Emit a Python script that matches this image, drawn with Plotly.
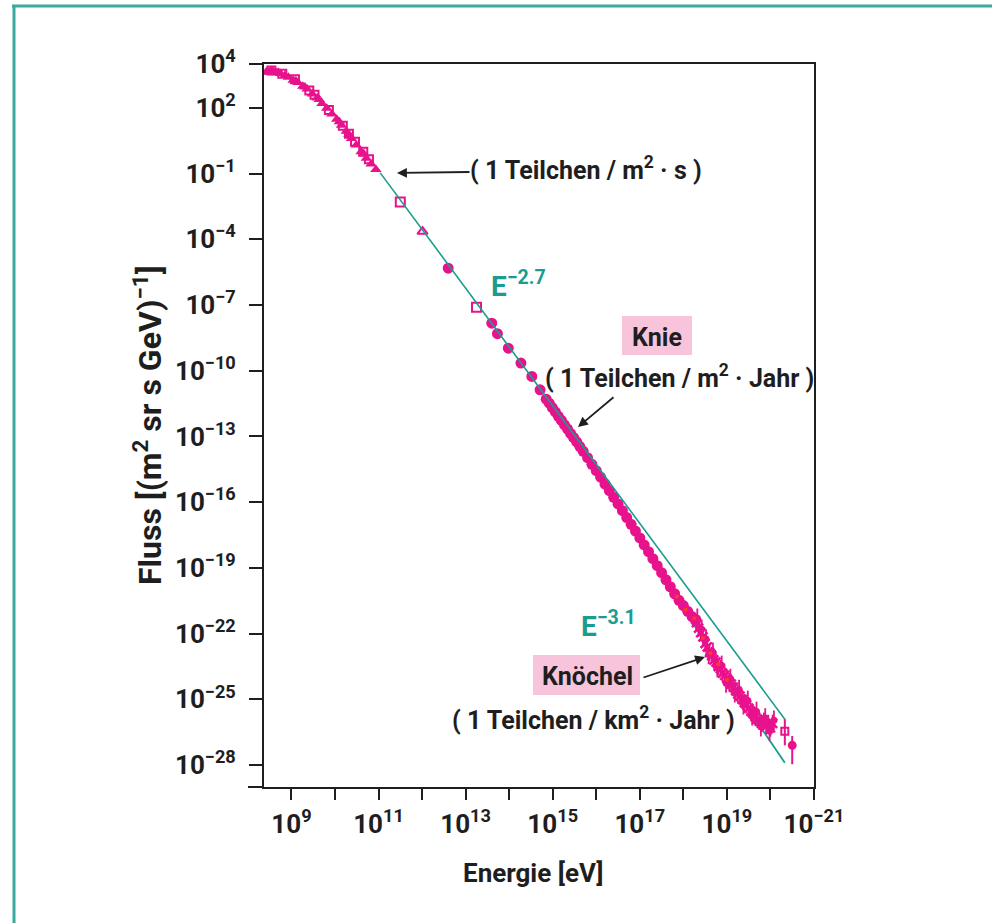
import numpy as np
import plotly.graph_objects as go

# ---------------------------------------------------------------------------
# Cosmic-ray energy spectrum (all-particle flux), values as log10 exponents
# ---------------------------------------------------------------------------

# low-energy direct measurements (filled triangles)
lo_tri_log_e = [8.42, 8.47, 8.51, 8.55, 8.59, 8.66, 8.70, 8.75, 8.85, 8.93, 9.04, 9.10,
                9.15, 9.26, 9.31, 9.36, 9.48, 9.59, 9.64, 9.70, 9.81, 9.93, 10.04,
                10.10, 10.15, 10.26, 10.32, 10.38, 10.49, 10.60, 10.66, 10.72, 10.83,
                10.94]
lo_tri_log_f = [3.64, 3.62, 3.66, 3.70, 3.63, 3.60, 3.62, 3.57, 3.48, 3.40, 3.26, 3.22,
                3.15, 2.98, 2.95, 2.86, 2.63, 2.45, 2.38, 2.20, 1.98, 1.72, 1.48,
                1.36, 1.20, 0.93, 0.78, 0.60, 0.30, 0.00, -0.10, -0.30, -0.57,
                -0.82]

# low-energy direct measurements (open squares)
lo_sq_log_e = [8.54, 8.79, 9.08, 9.41, 9.53, 9.86, 10.18, 10.32, 10.46, 10.65, 10.78]
lo_sq_log_f = [3.70, 3.56, 3.30, 2.79, 2.60, 1.90, 1.18, 0.82, 0.45, 0.00, -0.35]

# isolated points between 1e11 and 1e15 eV
mid_log_e = [11.50, 12.01, 12.60, 13.25, 13.60, 13.73, 13.98, 14.27, 14.52, 14.71]
mid_log_f = [-2.30, -3.65, -5.32, -7.10, -7.83, -8.31, -8.97, -9.65, -10.26, -10.87]
mid_symbols = ["square-open", "triangle-up-open", "circle", "square-open", "circle",
               "circle", "circle", "circle", "circle", "circle"]

# air-shower measurements around and above the knee
knee_log_e = [14.85, 14.92, 14.99, 15.06, 15.13, 15.20, 15.27, 15.34, 15.41, 15.48,
              15.55, 15.62, 15.70, 15.80, 15.90, 16.00, 16.10, 16.20, 16.30, 16.40,
              16.50, 16.60, 16.70, 16.80, 16.90, 17.00, 17.10, 17.20, 17.30, 17.40,
              17.50, 17.60, 17.70, 17.80, 17.90, 18.00, 18.10, 18.20, 18.28]
knee_log_f = [-11.30, -11.48, -11.68, -11.88, -12.08, -12.27, -12.47, -12.66, -12.86, -13.05,
              -13.25, -13.45, -13.68, -13.97, -14.27, -14.56, -14.86, -15.17, -15.47, -15.78,
              -16.08, -16.39, -16.70, -17.01, -17.32, -17.63, -17.95, -18.26, -18.58, -18.90,
              -19.22, -19.54, -19.86, -20.18, -20.48, -20.72, -20.98, -21.22, -21.40]

# highest energies with error bars (first set, crosses)
hi_log_e = [18.30, 18.35, 18.40, 18.45, 18.50, 18.55, 18.60, 18.65, 18.70, 18.75,
            18.80, 18.85, 18.90, 18.95, 19.00, 19.05, 19.10, 19.15, 19.20, 19.25,
            19.30, 19.35, 19.40, 19.45, 19.50, 19.55, 19.60, 19.65, 19.70, 19.75,
            19.80, 19.85, 19.90, 19.95, 20.00, 20.05]
hi_log_f = [-21.50, -21.75, -21.95, -22.15, -22.45, -22.60, -22.85, -23.00, -23.20, -23.30,
            -23.50, -23.60, -23.80, -23.90, -24.05, -24.20, -24.30, -24.45, -24.60, -24.75,
            -24.85, -25.00, -25.15, -25.25, -25.40, -25.55, -25.65, -25.80, -25.90, -26.00,
            -26.10, -26.00, -26.20, -26.10, -26.30, -26.10]

# highest energies with error bars (second set, filled circles)
hi2_log_e = [18.32, 18.42, 18.52, 18.58, 18.68, 18.78, 18.88, 18.98, 19.08, 19.18,
             19.28, 19.38, 19.48, 19.58, 19.68, 19.78, 19.88, 19.98, 20.08]
hi2_log_f = [-21.30, -21.80, -22.25, -22.95, -22.85, -23.55, -23.45, -24.25, -24.05, -24.70,
             -24.55, -25.25, -25.05, -25.75, -25.55, -26.25, -25.85, -26.45, -25.95]

# second data set (small red dots)
red_log_e = [17.85, 18.05, 18.25, 18.45, 18.62, 18.80, 19.00]
red_log_f = [-20.30, -20.90, -21.30, -22.20, -22.90, -23.40, -24.10]

# two highest-energy points with their error ranges (decades)
top_log_e = [20.33, 20.50]
top_log_f = [-26.45, -27.10]
top_err_up = [0.55, 0.43]
top_err_dn = [0.65, 0.86]
top_symbols = ["square-open", "circle"]

# reference power laws E^-2.7 and E^-3.1
pl27_log_e = [11.04, 20.33]
pl27_log_f = [-0.97, -25.91]
pl31_log_e = [15.60, 19.00, 20.33]
pl31_log_f = [-13.21, -24.00, -27.89]

# axis ticks
x_tick_exp = list(range(9, 22))
x_tick_text = ["10<sup>9</sup>", "", "10<sup>11</sup>", "", "10<sup>13</sup>", "",
               "10<sup>15</sup>", "", "10<sup>17</sup>", "", "10<sup>19</sup>", "",
               "10<sup>\u221221</sup>"]
y_tick_exp = [4, 2, -1, -4, -7, -10, -13, -16, -19, -22, -25, -28]
y_tick_text = ["10<sup>4</sup>", "10<sup>2</sup>"] + [
    "10<sup>\u2212%d</sup>" % abs(v) for v in y_tick_exp[2:]]

# ---------------------------------------------------------------------------
MAGENTA = "#e8128c"
TEAL = "#1b9c90"
FRAME = "#3aa89f"
PINK = "#f7c4dc"
INK = "#1e1e1e"
FONT = "Roboto, Liberation Sans, sans-serif"

W, H = 992, 923
L, R, T, B = 264, 178, 64, 136
PW, PH = W - L - R, H - T - B


def pxx(x):
    return (x - L) / PW


def pxy(y):
    return (H - B - y) / PH


def p10(v):
    return 10 ** np.asarray(v, dtype=float)


fig = go.Figure()

# steeper power law sits underneath the data
fig.add_trace(go.Scatter(x=p10(pl31_log_e), y=p10(pl31_log_f), mode="lines",
                         line=dict(color=TEAL, width=1.8), hoverinfo="skip"))

fig.add_trace(go.Scatter(x=p10(lo_tri_log_e), y=p10(lo_tri_log_f), mode="markers",
                         marker=dict(symbol="triangle-up", size=10, color=MAGENTA)))
fig.add_trace(go.Scatter(x=p10(lo_sq_log_e), y=p10(lo_sq_log_f), mode="markers",
                         marker=dict(symbol="square-open", size=8, color=MAGENTA,
                                     line=dict(width=2, color=MAGENTA))))
fig.add_trace(go.Scatter(x=p10(mid_log_e), y=p10(mid_log_f), mode="markers",
                         marker=dict(symbol=mid_symbols, size=9, color=MAGENTA,
                                     line=dict(width=2, color=MAGENTA))))
fig.add_trace(go.Scatter(x=p10(knee_log_e), y=p10(knee_log_f), mode="markers",
                         marker=dict(symbol="circle", size=11, color=MAGENTA)))
fig.add_trace(go.Scatter(x=p10(hi_log_e), y=p10(hi_log_f), mode="markers",
                         marker=dict(symbol="x-thin", size=9, color=MAGENTA,
                                     line=dict(width=2.5, color=MAGENTA)),
                         error_y=dict(type="percent", symmetric=False, value=150,
                                      valueminus=60, color=MAGENTA, thickness=1.8,
                                      width=0),
                         error_x=dict(type="percent", symmetric=False, value=12,
                                      valueminus=11, color=MAGENTA, thickness=1.8,
                                      width=0)))
fig.add_trace(go.Scatter(x=p10(hi2_log_e), y=p10(hi2_log_f), mode="markers",
                         marker=dict(symbol="circle", size=7, color=MAGENTA),
                         error_y=dict(type="percent", symmetric=False, value=180,
                                      valueminus=64, color=MAGENTA, thickness=1.8,
                                      width=0)))
fig.add_trace(go.Scatter(x=p10(red_log_e), y=p10(red_log_f), mode="markers",
                         marker=dict(symbol="circle", size=4, color="#ff3a2a")))

top_f = p10(top_log_f)
fig.add_trace(go.Scatter(x=p10(top_log_e), y=top_f, mode="markers",
                         marker=dict(symbol=top_symbols, size=7, color=MAGENTA,
                                     line=dict(width=2, color=MAGENTA)),
                         error_y=dict(type="data", symmetric=False,
                                      array=top_f * (p10(top_err_up) - 1),
                                      arrayminus=top_f * (1 - p10([-d for d in top_err_dn])),
                                      color=MAGENTA, thickness=2, width=0)))

# E^-2.7 guide line drawn across the markers
fig.add_trace(go.Scatter(x=p10(pl27_log_e), y=p10(pl27_log_f), mode="lines",
                         line=dict(color=TEAL, width=1.6), hoverinfo="skip"))

axis_common = dict(type="log", showline=True, linecolor=INK, linewidth=2, mirror=True,
                   ticks="outside", tickcolor=INK, tickwidth=2, showgrid=False,
                   zeroline=False,
                   tickfont=dict(family=FONT, size=26, color=INK, weight=700))

fig.update_layout(
    width=W, height=H, margin=dict(l=L, r=R, t=T, b=B),
    paper_bgcolor="white", plot_bgcolor="white", showlegend=False,
    xaxis=dict(axis_common, range=[8.37, 21.0], tickvals=p10(x_tick_exp),
               ticktext=x_tick_text, ticklen=11, ticklabelstandoff=2),
    yaxis=dict(axis_common, range=[-29.0, 4.0], tickvals=p10(y_tick_exp),
               ticktext=y_tick_text, ticklen=13, ticklabelstandoff=8),
)

shapes = [
    # page frame
    dict(type="line", xref="paper", yref="paper", x0=pxx(12), x1=pxx(W + 5),
         y0=pxy(6), y1=pxy(6), line=dict(color=FRAME, width=3)),
    dict(type="line", xref="paper", yref="paper", x0=pxx(14), x1=pxx(14),
         y0=pxy(5), y1=pxy(H + 5), line=dict(color=FRAME, width=3)),
    # bottom axis line running past the y axis
    dict(type="line", xref="paper", yref="paper", x0=pxx(248), x1=0,
         y0=0, y1=0, line=dict(color=INK, width=2)),
    # highlight boxes
    dict(type="rect", xref="paper", yref="paper", x0=pxx(622), x1=pxx(692),
         y0=pxy(355), y1=pxy(316), fillcolor=PINK, line=dict(width=0), layer="below"),
    dict(type="rect", xref="paper", yref="paper", x0=pxx(533), x1=pxx(640),
         y0=pxy(695), y1=pxy(655), fillcolor=PINK, line=dict(width=0), layer="below"),
]
fig.update_layout(shapes=shapes)


def label(x, y, text, size=25, color=INK, **kw):
    fig.add_annotation(xref="paper", yref="paper", x=pxx(x), y=pxy(y), text=text,
                       showarrow=False, xanchor="center", yanchor="middle",
                       font=dict(family=FONT, size=size, color=color, weight=700), **kw)


def arrow(tip_x, tip_y, tail_x, tail_y):
    fig.add_annotation(xref="paper", yref="paper", x=pxx(tip_x), y=pxy(tip_y),
                       ax=tail_x - tip_x, ay=tail_y - tip_y, text="", showarrow=True,
                       arrowhead=2, arrowsize=1.1, arrowwidth=1.8, arrowcolor=INK,
                       standoff=0)


label(586, 168, "( 1 Teilchen / m<sup>2</sup> \u00b7 s )")
label(518, 284, "E<sup>\u22122.7</sup>", size=28, color=TEAL)
label(657, 337, "Knie")
label(679, 376, "( 1 Teilchen / m<sup>2</sup> \u00b7 Jahr )")
label(608, 624, "E<sup>\u22123.1</sup>", size=28, color=TEAL)
label(587, 676, "Kn\u00f6chel")
label(593, 718, "( 1 Teilchen / km<sup>2</sup> \u00b7 Jahr )")

arrow(397, 173, 471, 172)
arrow(578, 427, 615, 396)
arrow(705, 657, 642, 678)

# axis titles
label(533, 873, "Energie [eV]", size=26)
label(148, 425, "Fluss [(m<sup>2</sup> sr s GeV)<sup>\u22121</sup>]", size=32, textangle=-90)

fig.write_html("out.html")
